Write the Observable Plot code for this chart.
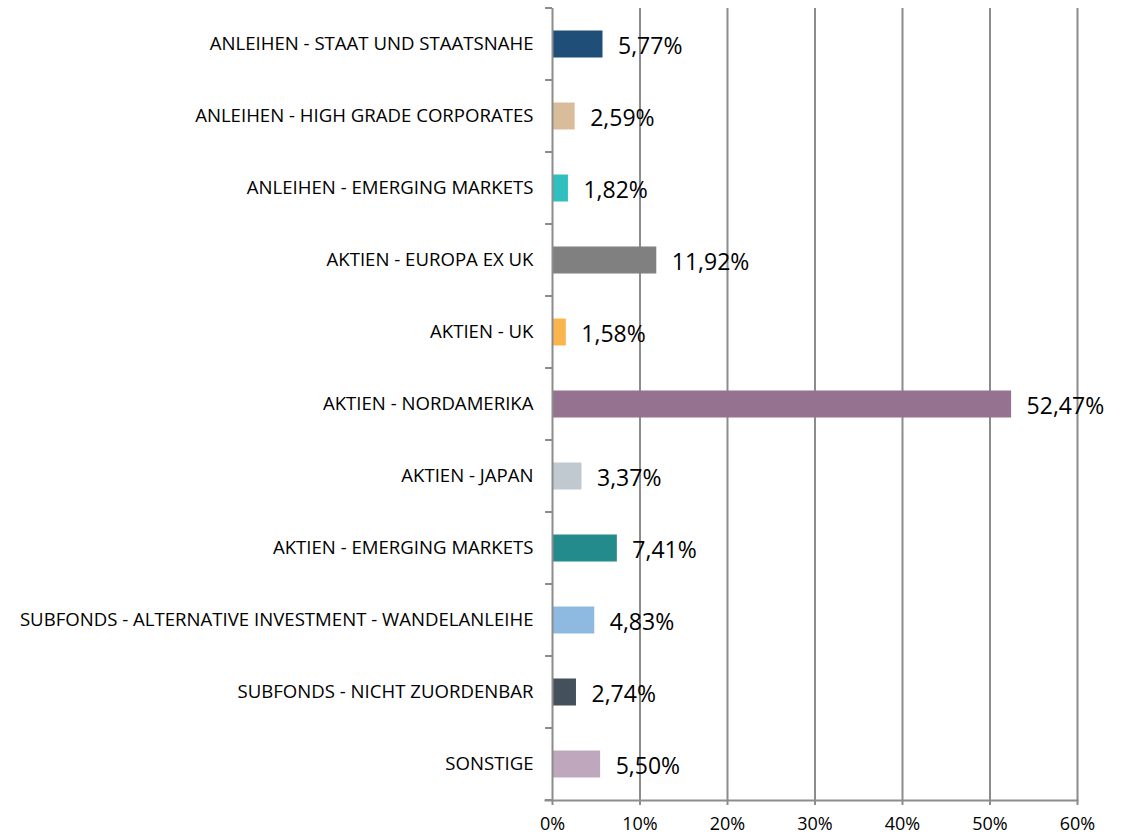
<!DOCTYPE html>
<html>
<head>
<meta charset="utf-8">
<script src="https://cdn.jsdelivr.net/npm/d3@7"></script>
<script src="https://cdn.jsdelivr.net/npm/@observablehq/plot@0.6"></script>
<style>
  html, body { margin: 0; padding: 0; background: #fff; }
</style>
</head>
<body>
<div id="chart"></div>
<script>
const categories = [
  "ANLEIHEN - STAAT UND STAATSNAHE",
  "ANLEIHEN - HIGH GRADE CORPORATES",
  "ANLEIHEN - EMERGING MARKETS",
  "AKTIEN - EUROPA EX UK",
  "AKTIEN - UK",
  "AKTIEN - NORDAMERIKA",
  "AKTIEN - JAPAN",
  "AKTIEN - EMERGING MARKETS",
  "SUBFONDS - ALTERNATIVE INVESTMENT - WANDELANLEIHE",
  "SUBFONDS - NICHT ZUORDENBAR",
  "SONSTIGE"
];
const values = [5.77, 2.59, 1.82, 11.92, 1.58, 52.47, 3.37, 7.41, 4.83, 2.74, 5.50];
const colors = ["#1f4e79", "#d9bd9a", "#30bfbf", "#808080", "#fbb54e", "#957290", "#bfc9cf", "#238b8b", "#8ebae2", "#44505c", "#bfa8bd"];
const xTicks = [0, 10, 20, 30, 40, 50, 60];

const data = categories.map((c, i) => ({
  category: c,
  value: values[i],
  color: colors[i],
  label: values[i].toFixed(2).replace(".", ",") + "%"
}));

const font = "'Open Sans', sans-serif";
const gridColor = "#8c8c8c";

const boundaryTicks = (index, scales, values, dims) => {
  const g = d3.create("svg:g");
  const y = scales.y;
  const bw = scales.scales.y.bandwidth;
  const ys = categories.map(c => y(c));
  ys.push(y(categories[categories.length - 1]) + bw);
  for (const yy of ys) {
    g.append("line")
      .attr("x1", dims.marginLeft - 7).attr("x2", dims.marginLeft)
      .attr("y1", yy).attr("y2", yy)
      .attr("stroke", gridColor).attr("stroke-width", 2);
  }
  return g.node();
};

const chart = Plot.plot({
  width: 1134,
  height: 837,
  marginLeft: 552,
  marginRight: 57,
  marginTop: 8,
  marginBottom: 37,
  style: { fontFamily: font, background: "#fff", color: "#000" },
  x: { domain: [0, 60], label: null },
  y: { domain: categories, padding: 0, label: null },
  color: { type: "identity" },
  marks: [
    Plot.ruleX(xTicks.filter(t => t > 0), { stroke: gridColor, strokeWidth: 2 }),
    Plot.barX(data, { x: "value", y: "category", fill: "color", insetTop: 22.5, insetBottom: 22.5, insetLeft: 1 }),
    Plot.ruleX([0], { stroke: gridColor, strokeWidth: 2 }),
    Plot.frame({ anchor: "bottom", stroke: gridColor, strokeWidth: 2, insetLeft: -7 }),
    boundaryTicks,
    Plot.text(data, { x: "value", y: "category", text: "label", dx: 15, dy: 2, textAnchor: "start", fontSize: 23, fill: "#000" }),
    Plot.axisX({ ticks: xTicks, tickFormat: d => d + "%", tickSize: 5, tickPadding: 12, fontSize: 18, stroke: gridColor, strokeWidth: 2, strokeOpacity: 1, fill: "#000", label: null }),
    Plot.axisY({ tickSize: 0, tickPadding: 19, fontSize: 18.6, fill: "#000", label: null })
  ]
});
document.getElementById("chart").appendChild(chart);
</script>
</body>
</html>
